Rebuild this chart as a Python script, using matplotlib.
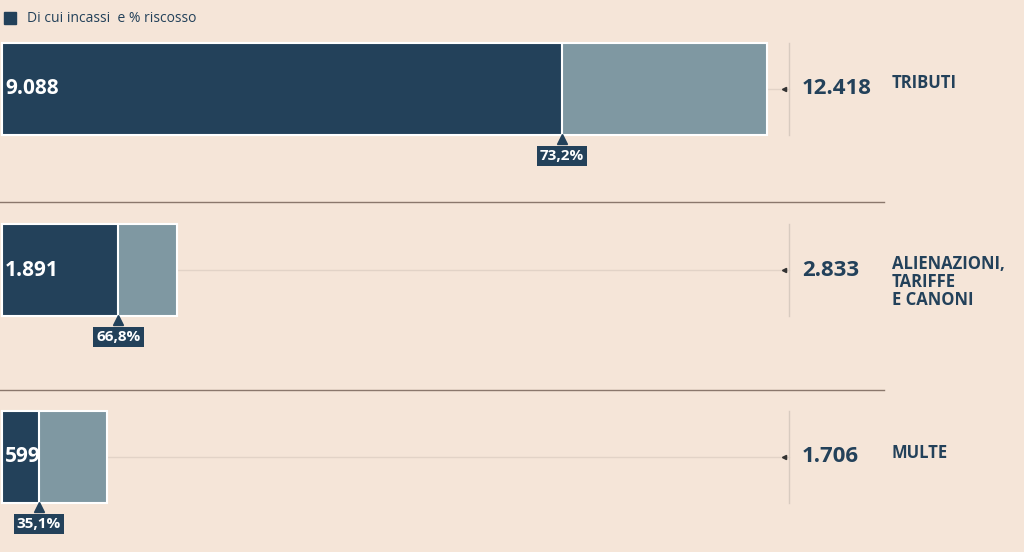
import matplotlib.pyplot as plt

categories = ['TRIBUTI', 'ALIENAZIONI,\nTARIFFE\nE CANONI', 'MULTE']
totals = [12418, 2833, 1706]
incassi = [9088, 1891, 599]
pct = ['73,2%', '66,8%', '35,1%']
total_labels = ['12.418', '2.833', '1.706']
incassi_labels = ['9.088', '1.891', '599']

dark = '#23415a'
light = '#7f98a2'
bg = '#f5e5d8'
plt.rcParams['font.family'] = ['Open Sans', 'DejaVu Sans']

scale = 0.0616  # px per unit
fig = plt.figure(figsize=(10.24, 5.52), dpi=100, facecolor=bg)
ax = fig.add_axes([0, 0, 1, 1])
ax.set_facecolor(bg)
ax.set_xlim(-2 / scale, 1022 / scale)
ax.set_ylim(552, 0)
ax.axis('off')

xline = 787 / scale
tops = [43, 224, 411]
h = 92
for i in range(3):
    t = tops[i]
    c = t + h / 2
    ax.barh(c, totals[i], height=h, color=light, edgecolor='white', lw=1.5)
    ax.barh(c, incassi[i], height=h, color=dark, edgecolor='white', lw=1.5)
    ax.plot([totals[i], xline], [c, c], color='#e2d3c7', lw=1, zorder=0)
    ax.plot([xline, xline], [t, t + h], color='#d8cbc0', lw=1)
    ax.plot(xline - 5 / scale, c, marker='<', color='#333333', ms=3)
    ax.text(3 / scale, c, incassi_labels[i], color='white', fontsize=15,
            fontweight='bold', va='center', ha='left')
    ax.text(800 / scale, c, total_labels[i], color=dark, fontsize=16,
            fontweight='bold', va='center', ha='left')
    ax.text(890 / scale, c - 6 if i == 0 else (c + 12 if i == 1 else c - 4),
            categories[i], color=dark, fontsize=12, fontweight='bold',
            va='center', ha='left', linespacing=1.0)
    ax.plot(incassi[i], t + h + 4, marker='^', color=dark, ms=7)
    ax.text(incassi[i], t + h + 21, pct[i], color='white', fontsize=11,
            fontweight='bold', va='center', ha='center',
            bbox=dict(boxstyle='square,pad=0.2', fc=dark, ec='none'))

for y in [202, 390]:
    ax.plot([-2 / scale, 882 / scale], [y, y], color='#8a776c', lw=1)

ax.plot(8 / scale, 18, marker='s', color=dark, ms=8)
ax.text(25 / scale, 18, 'Di cui incassi  e % riscosso', color=dark, fontsize=10,
        va='center', ha='left')

fig.savefig('out.png', dpi=100, facecolor=bg)
